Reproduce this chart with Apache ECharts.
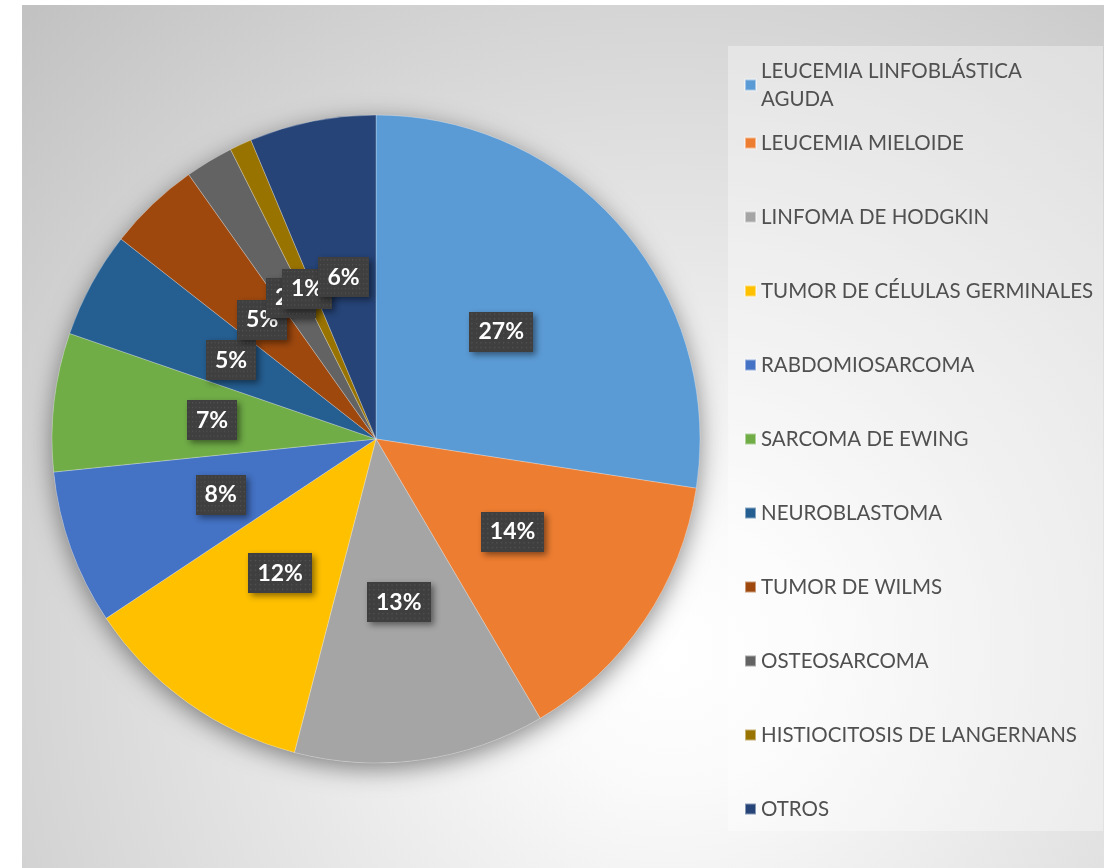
<!DOCTYPE html>
<html>
<head>
<meta charset="utf-8">
<script src="https://cdn.jsdelivr.net/npm/echarts@6/dist/echarts.min.js"></script>
<style>
  html, body { margin: 0; padding: 0; background: #fff; }
  #chart { width: 1104px; height: 868px; }
</style>
</head>
<body>
<div id="chart"></div>
<script>
const categories = [
  'LEUCEMIA LINFOBLÁSTICA AGUDA',
  'LEUCEMIA MIELOIDE',
  'LINFOMA DE HODGKIN',
  'TUMOR DE CÉLULAS GERMINALES',
  'RABDOMIOSARCOMA',
  'SARCOMA DE EWING',
  'NEUROBLASTOMA',
  'TUMOR DE WILMS',
  'OSTEOSARCOMA',
  'HISTIOCITOSIS DE LANGERNANS',
  'OTROS',
];
const values = [27.4, 14.1, 12.5, 11.6, 7.7, 6.9, 5.3, 4.6, 2.4, 1.1, 6.3];
const colors = [
  '#5B9BD5', '#ED7D31', '#A5A5A5', '#FFC000', '#4472C4', '#70AD47',
  '#255E91', '#9E480E', '#636363', '#997300', '#264478',
];

const chart = echarts.init(document.getElementById('chart'));

const total = values.reduce((a, b) => a + b, 0);
const pieData = categories.map((name, i) => ({
  name: name,
  value: values[i],
  itemStyle: { color: colors[i] },
}));

// dotted dark fill for the data labels
const dots = document.createElement('canvas');
dots.width = 70;
dots.height = 42;
const dctx = dots.getContext('2d');
dctx.fillStyle = '#3f3f3f';
dctx.fillRect(0, 0, dots.width, dots.height);
dctx.fillStyle = '#555555';
for (let y = 2; y < dots.height; y += 5) {
  for (let x = 2; x < dots.width; x += 5) {
    dctx.fillRect(x, y, 1.4, 1.4);
  }
}

const legendText = {
  fontFamily: 'Lato, "Open Sans", sans-serif',
  fontSize: 20.5,
  color: '#505050',
  lineHeight: 28,
};

const option = {
  backgroundColor: '#ffffff',
  animation: false,
  graphic: [
    {
      type: 'rect',
      z: -10,
      silent: true,
      shape: { x: 22, y: 5, width: 1082, height: 863 },
      style: {
        fill: new echarts.graphic.RadialGradient(0.6, 0.75, 1.05, [
          { offset: 0, color: '#ffffff' },
          { offset: 0.15, color: '#fafafa' },
          { offset: 1, color: '#c2c2c2' },
        ]),
      },
    },
    {
      type: 'rect',
      z: -9,
      silent: true,
      shape: { x: 728, y: 46, width: 375, height: 785 },
      style: { fill: 'rgba(255,255,255,0.35)' },
    },
  ],
  legend: [
    {
      orient: 'vertical',
      left: 739,
      top: 38,
      itemWidth: 11,
      itemHeight: 11,
      icon: 'rect',
      data: categories.slice(0, 1),
      formatter: (n) => n.replace(' AGUDA', '\nAGUDA'),
      textStyle: Object.assign({}, legendText, { padding: [28, 0, 0, 0] }),
    },
    {
      orient: 'vertical',
      left: 739,
      top: 124,
      itemWidth: 11,
      itemHeight: 11,
      itemGap: 46,
      icon: 'rect',
      data: categories.slice(1),
      textStyle: legendText,
    },
  ],
  series: [
    {
      // soft shadow under the pie
      type: 'pie',
      silent: true,
      z: 1,
      center: [376, 439],
      radius: 324,
      label: { show: false },
      labelLine: { show: false },
      data: [{ value: total, name: '', itemStyle: {
        color: '#cfcfcf',
        shadowBlur: 24,
        shadowColor: 'rgba(0,0,0,0.45)',
        shadowOffsetY: 6,
      } }],
      legendHoverLink: false,
      tooltip: { show: false },
    },
    {
      type: 'pie',
      z: 2,
      center: [376, 439],
      radius: 324,
      startAngle: 90,
      clockwise: true,
      avoidLabelOverlap: false,
      labelLayout: { hideOverlap: false },
      itemStyle: {
        borderColor: 'rgba(255,255,255,0.45)',
        borderWidth: 0.6,
      },
      label: {
        show: true,
        position: 'inside',
        formatter: (p) => Math.round(p.value / total * 100) + '%',
        color: '#ffffff',
        fontFamily: 'Lato, "Open Sans", sans-serif',
        fontWeight: 'bold',
        fontSize: 23,
        backgroundColor: { image: dots },
        padding: [9, 9, 8, 9],
        shadowBlur: 6,
        shadowOffsetX: 3,
        shadowOffsetY: 3,
        shadowColor: 'rgba(0,0,0,0.45)',
      },
      labelLine: { show: false },
      emphasis: { disabled: true },
      data: pieData,
    },
  ],
};

chart.setOption(option);
</script>
</body>
</html>
